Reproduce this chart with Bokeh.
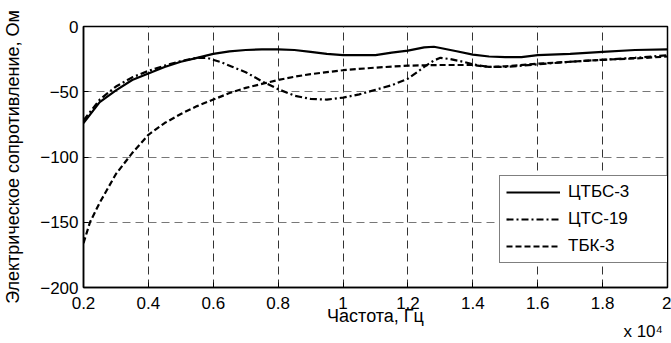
from bokeh.plotting import figure
from bokeh.models import Legend, LegendItem, LinearAxis, Range1d, FixedTicker
from bokeh.embed import file_html
from bokeh.resources import INLINE

# Frequency in units of 10^4 Hz, resistance in Ohm
x_ctbs3 = [0.2, 0.25, 0.3, 0.35, 0.4, 0.45, 0.5, 0.55, 0.6, 0.65, 0.7, 0.75, 0.8, 0.85, 0.9, 0.95,
           1.0, 1.05, 1.1, 1.15, 1.2, 1.25, 1.28, 1.3, 1.35, 1.4, 1.45, 1.5, 1.55, 1.6, 1.7, 1.8, 1.9, 2.0]
y_ctbs3 = [-74, -58, -49, -41, -36, -31, -27, -24, -21, -19, -18, -17.5, -17.5, -18, -19.5, -21,
           -22, -22, -22, -20, -18.5, -16, -15.5, -16.5, -19, -21.5, -23, -23.5, -23.5, -22, -21, -19.5, -18, -17.5]

x_cts19 = [0.2, 0.25, 0.3, 0.35, 0.4, 0.45, 0.5, 0.55, 0.58, 0.62, 0.66, 0.7, 0.75, 0.8, 0.85, 0.9, 0.95,
           1.0, 1.05, 1.1, 1.15, 1.2, 1.25, 1.28, 1.3, 1.33, 1.37, 1.4, 1.45, 1.5, 1.6, 1.7, 1.8, 1.9, 2.0]
y_cts19 = [-72, -56, -46, -39, -34, -30, -26.5, -24, -24, -27, -31, -35, -42, -48, -53, -55.5, -56,
           -54.5, -52, -48.5, -45, -40, -31, -26, -24, -25, -27, -29, -31, -31, -29, -27, -25.5, -24, -22]

x_tbk3 = [0.2, 0.22, 0.25, 0.3, 0.35, 0.4, 0.45, 0.5, 0.55, 0.6, 0.65, 0.7, 0.75, 0.8, 0.85, 0.9, 0.95,
          1.0, 1.1, 1.2, 1.3, 1.4, 1.45, 1.5, 1.6, 1.7, 1.8, 1.9, 2.0]
y_tbk3 = [-166, -150, -135, -113, -97, -83, -74, -67, -61, -56, -51, -47, -44, -41, -38.5, -36.5, -35,
          -33.5, -31.5, -30, -29.5, -29.5, -31, -30.5, -28.5, -27, -25.5, -24.5, -23]

series_names = ["ЦТБС-3", "ЦТС-19", "ТБК-3"]
x_ticks = [0.2, 0.4, 0.6, 0.8, 1.0, 1.2, 1.4, 1.6, 1.8, 2.0]
x_tick_labels = ["0.2", "0.4", "0.6", "0.8", "1", "1.2", "1.4", "1.6", "1.8", "2"]
y_ticks = [0, -50, -100, -150, -200]
x_multiplier = "x 10⁴"

FONT = "Liberation Sans"
TICK_FS = "17px"
LABEL_FS = "18px"

p = figure(width=671, height=343, output_backend="svg", toolbar_location=None,
           min_border_left=79, min_border_right=4, min_border_top=26, min_border_bottom=0,
           x_range=Range1d(0.2, 2.0), y_range=Range1d(-200, 0))
p.background_fill_color = "white"
p.border_fill_color = "white"
p.outline_line_color = "black"
p.outline_line_width = 1.5

for ax in (p.xaxis[0], p.yaxis[0]):
    ax.major_tick_in = 5
    ax.major_tick_out = 0
    ax.minor_tick_in = 0
    ax.minor_tick_out = 0
    ax.axis_line_width = 1.5
    ax.axis_line_color = "black"
    ax.major_tick_line_color = "black"
    ax.major_label_text_color = "black"
    ax.axis_label_text_color = "black"
    ax.major_label_text_font = FONT
    ax.major_label_text_font_size = TICK_FS
    ax.axis_label_text_font = FONT
    ax.axis_label_text_font_size = LABEL_FS
    ax.axis_label_text_font_style = "normal"

p.xaxis.ticker = FixedTicker(ticks=x_ticks)
p.xaxis.major_label_overrides = {t: l for t, l in zip(x_ticks, x_tick_labels)}
p.yaxis.ticker = FixedTicker(ticks=y_ticks)
p.xaxis.major_label_standoff = 9
p.yaxis.major_label_standoff = 5
p.xaxis.axis_label = "Частота, Гц"
p.yaxis.axis_label = "Электрическое сопротивление, Ом"
p.xaxis.axis_label_standoff = -6
p.yaxis.axis_label_standoff = 14

# second, label-only axis holding the "x 10^4" multiplier
mult_pos = 1.925
mult_axis = LinearAxis(ticker=FixedTicker(ticks=[mult_pos]),
                       major_label_overrides={mult_pos: x_multiplier},
                       axis_line_color=None, major_tick_line_color=None,
                       minor_tick_line_color=None, major_tick_in=0, major_tick_out=0,
                       minor_tick_in=0, minor_tick_out=0,
                       major_label_standoff=-7, major_label_text_font=FONT,
                       major_label_text_font_size=TICK_FS, major_label_text_color="black")
p.add_layout(mult_axis, "below")

p.xgrid.grid_line_color = "#333333"
p.xgrid.grid_line_dash = "8 5"
p.xgrid.grid_line_width = 1
p.ygrid.grid_line_color = "#777777"
p.ygrid.grid_line_dash = "8 5"
p.ygrid.grid_line_width = 1

r1 = p.line(x_ctbs3, y_ctbs3, line_color="black", line_width=2.2)
r2 = p.line(x_cts19, y_cts19, line_color="black", line_width=2.2, line_dash="7 3 2 3")
r3 = p.line(x_tbk3, y_tbk3, line_color="black", line_width=2.2, line_dash="6 3")

legend = Legend(items=[LegendItem(label=series_names[0], renderers=[r1]),
                       LegendItem(label=series_names[1], renderers=[r2]),
                       LegendItem(label=series_names[2], renderers=[r3])],
                location=(416, 24))
legend.label_text_font = FONT
legend.label_text_font_size = TICK_FS
legend.label_text_color = "black"
legend.glyph_width = 54
legend.glyph_height = 14
legend.label_height = 14
legend.spacing = 7
legend.padding = 6
legend.margin = 0
legend.label_standoff = 8
legend.label_width = 95
legend.border_line_color = "black"
legend.border_line_width = 1.5
legend.background_fill_alpha = 1
p.add_layout(legend, "center")

open("out.html", "w").write(file_html(p, INLINE))
